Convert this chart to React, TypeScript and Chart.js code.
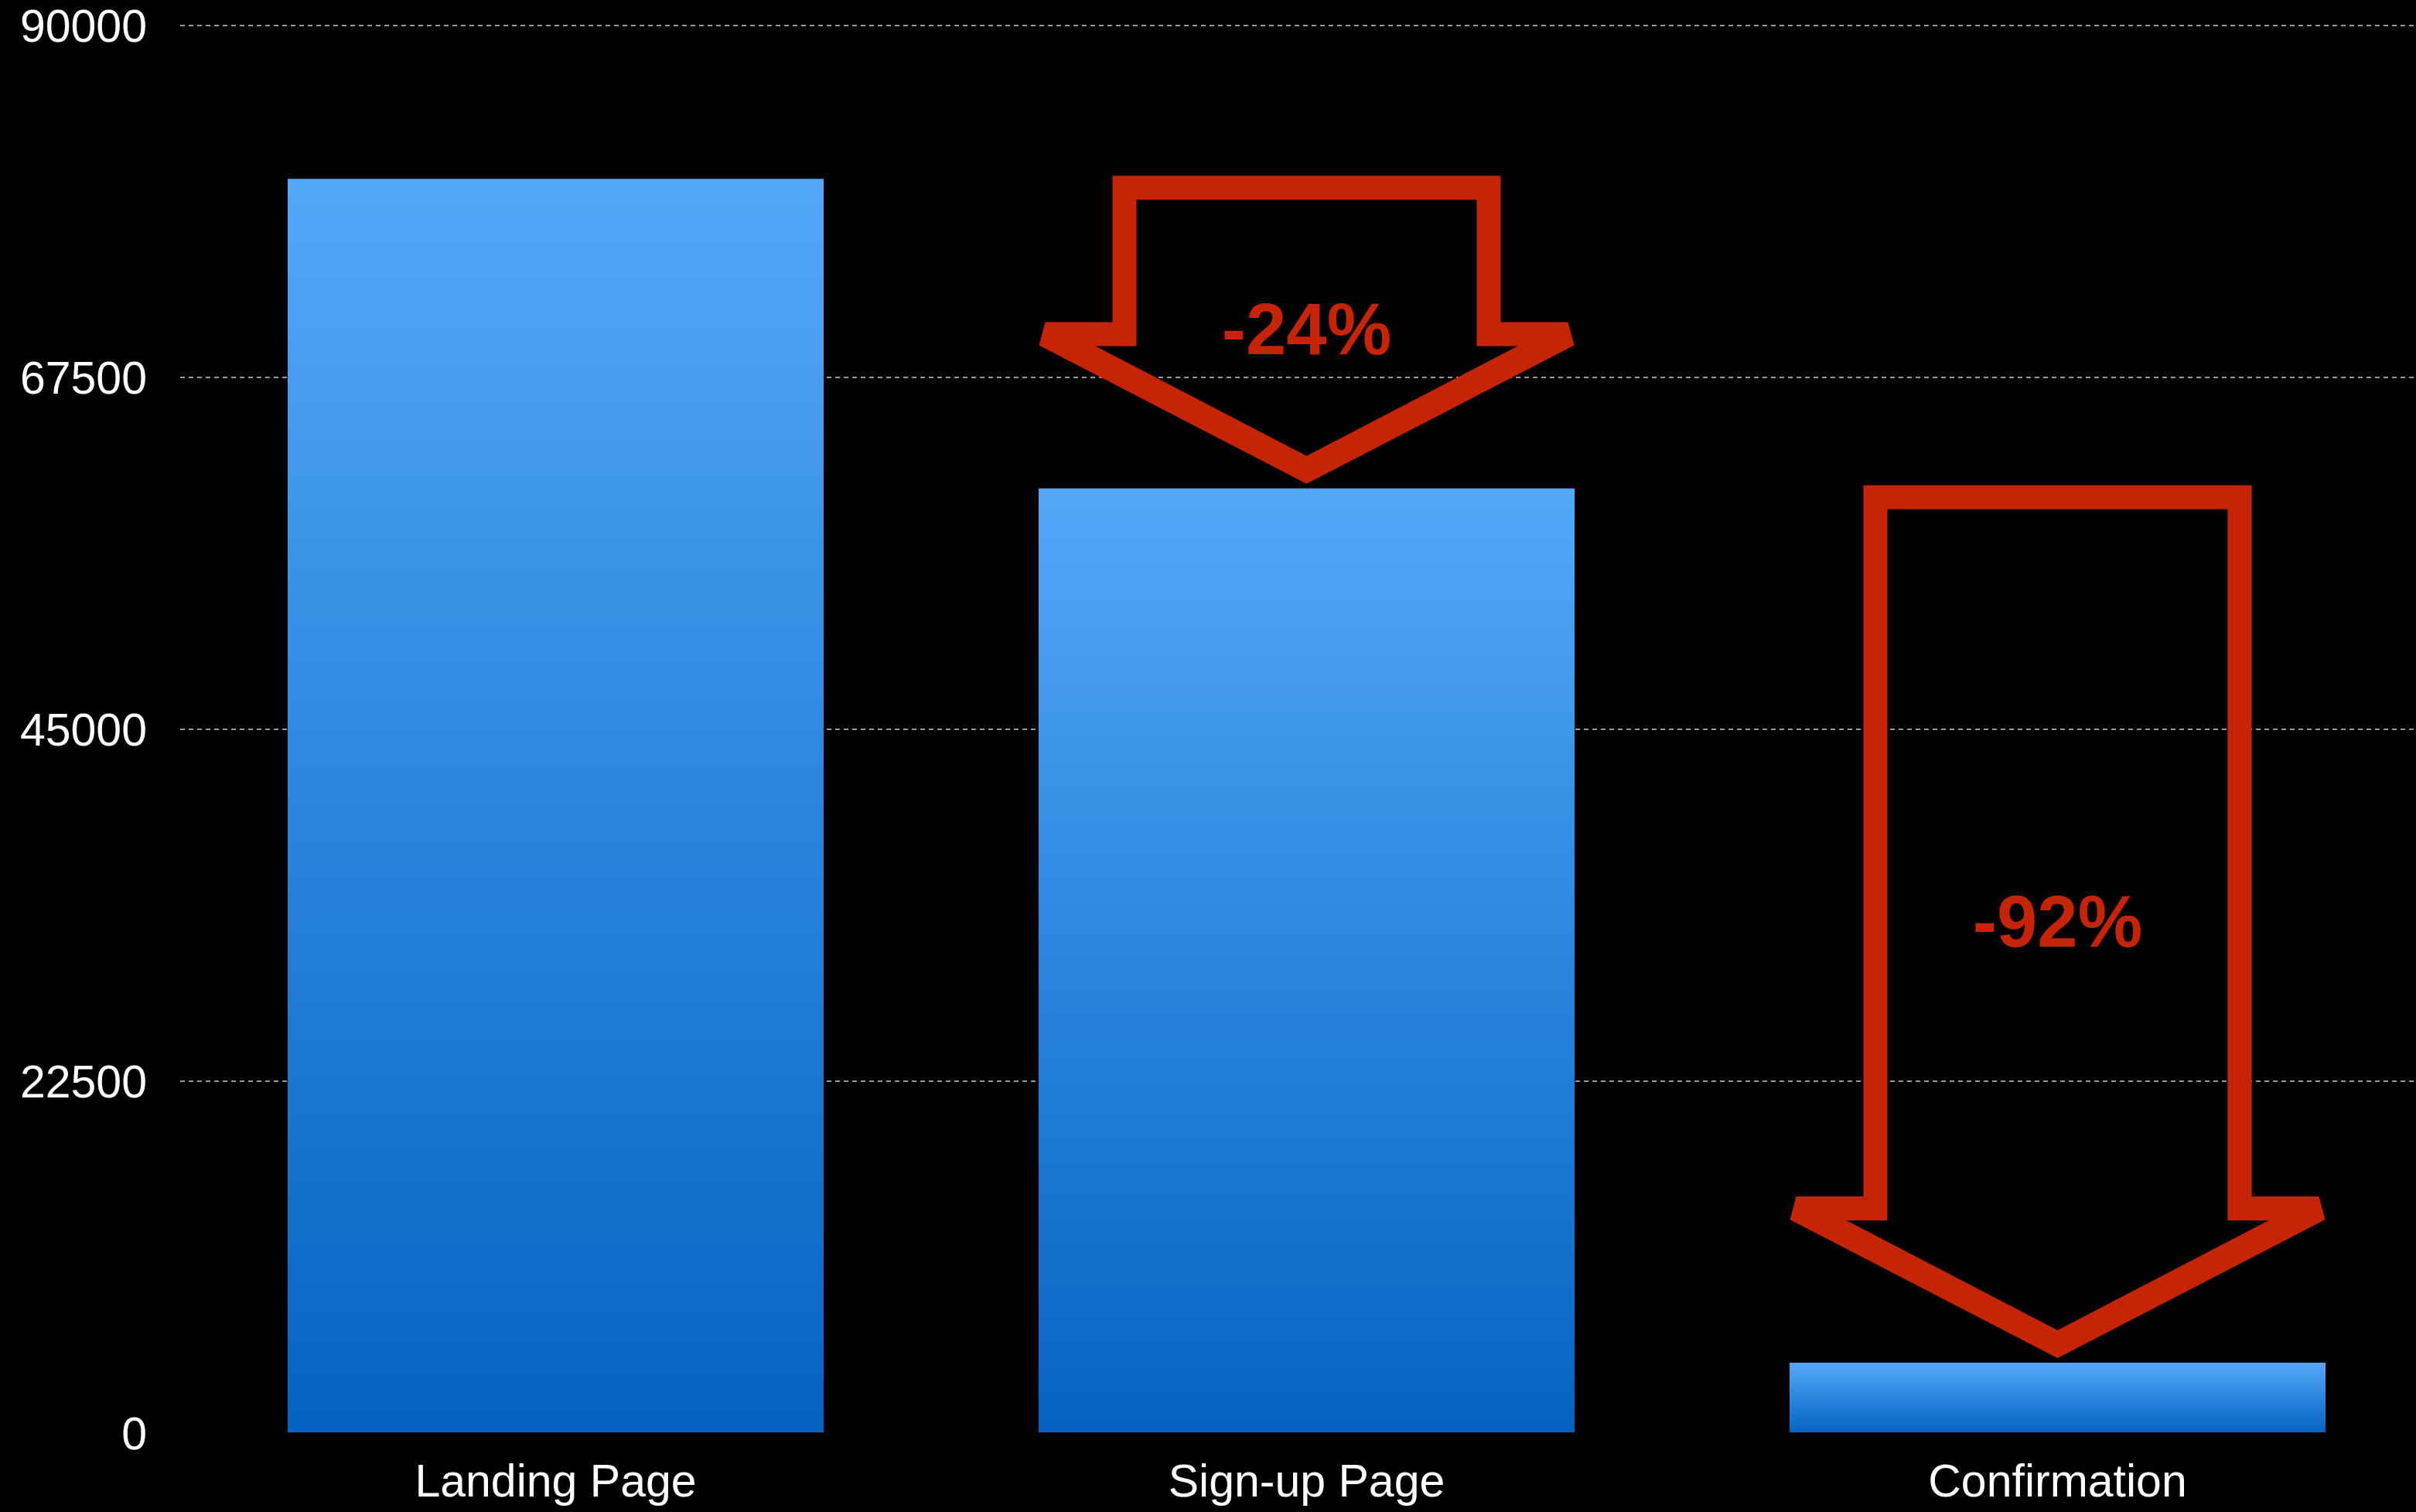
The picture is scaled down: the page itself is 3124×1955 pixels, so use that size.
import React, { useEffect, useRef } from 'react';
import { Chart, registerables } from 'chart.js';

Chart.register(...registerables);

const categories = ['Landing Page', 'Sign-up Page', 'Confirmation'];
const visitors = [80200, 60400, 4500];
const dropLabels = ['-24%', '-92%'];
const yMin = 0;
const yMax = 90000;
const yStep = 22500;

const FONT = "'Liberation Sans', Arial, Helvetica, sans-serif";
const ARROW_RED = '#C62406';
const BAR_TOP = '#53A8FA';
const BAR_BOTTOM = '#0563C0';

const arrowPlugin = {
  id: 'dropArrows',
  afterDatasetsDraw(chart: any) {
    const ctx = chart.ctx as CanvasRenderingContext2D;
    const xs = chart.scales.x;
    const ys = chart.scales.y;
    for (let i = 1; i < visitors.length; i++) {
      const cx = xs.getPixelForValue(i);
      const prevTop = ys.getPixelForValue(visitors[i - 1]);
      const currTop = ys.getPixelForValue(visitors[i]);
      const top = prevTop - 4;
      const topIn = top + 31;
      const tip = currTop - 6;
      const tipIn = tip - 36;
      const base = tip - 179;
      const wingTop = base - 30;
      const sOut = 251;
      const sIn = 220;
      ctx.save();
      ctx.beginPath();
      ctx.moveTo(cx - sOut, top);
      ctx.lineTo(cx + sOut, top);
      ctx.lineTo(cx + sOut, wingTop);
      ctx.lineTo(cx + 338, wingTop);
      ctx.lineTo(cx + 346, base);
      ctx.lineTo(cx, tip);
      ctx.lineTo(cx - 346, base);
      ctx.lineTo(cx - 338, wingTop);
      ctx.lineTo(cx - sOut, wingTop);
      ctx.closePath();
      ctx.moveTo(cx - sIn, topIn);
      ctx.lineTo(cx - sIn, base + 1);
      ctx.lineTo(cx - 273, base + 1);
      ctx.lineTo(cx, tipIn);
      ctx.lineTo(cx + 273, base + 1);
      ctx.lineTo(cx + sIn, base + 1);
      ctx.lineTo(cx + sIn, topIn);
      ctx.closePath();
      ctx.fillStyle = ARROW_RED;
      ctx.fill('evenodd');

      ctx.fillStyle = ARROW_RED;
      ctx.font = `bold 94px ${FONT}`;
      ctx.textAlign = 'center';
      ctx.textBaseline = 'middle';
      ctx.fillText(dropLabels[i - 1], cx, (top + tip) / 2 + 6);
      ctx.restore();
    }
  },
};

export default function App() {
  const canvasRef = useRef<HTMLCanvasElement | null>(null);

  useEffect(() => {
    const canvas = canvasRef.current;
    if (!canvas) return;
    const chart = new Chart(canvas, {
      type: 'bar',
      data: {
        labels: categories,
        datasets: [
          {
            data: visitors,
            backgroundColor: (c: any) => {
              const ch = c.chart;
              if (!ch.chartArea || c.type !== 'data') return '#2E8BE5';
              const ys = ch.scales.y;
              const t = ys.getPixelForValue(c.raw as number);
              const b = ys.getPixelForValue(0);
              const g = ch.ctx.createLinearGradient(0, t, 0, b);
              g.addColorStop(0, BAR_TOP);
              g.addColorStop(1, BAR_BOTTOM);
              return g;
            },
            borderWidth: 0,
            barPercentage: 0.7137,
            categoryPercentage: 1.0,
          },
        ],
      },
      options: {
        responsive: false,
        animation: false,
        devicePixelRatio: 1,
        layout: { padding: { top: 33, left: 0, right: 0, bottom: 0 } },
        plugins: {
          legend: { display: false },
          tooltip: { enabled: false },
          title: { display: false },
        },
        scales: {
          x: {
            offset: true,
            grid: { display: false, drawTicks: false },
            border: { display: false },
            ticks: {
              color: '#ffffff',
              font: { family: FONT, size: 59, lineHeight: 1.2 },
              padding: 30,
              maxRotation: 0,
              autoSkip: false,
            },
            afterFit: (scale: any) => {
              scale.height = 102;
              scale.paddingLeft = 0;
              scale.paddingRight = 0;
            },
          },
          y: {
            min: yMin,
            max: yMax,
            grid: {
              display: true,
              drawTicks: false,
              lineWidth: 2,
              color: (c: any) => (c.tick && c.tick.value === 0 ? 'rgba(0,0,0,0)' : '#9A9A9A'),
            },
            border: { display: false, dash: [6, 5] },
            ticks: {
              stepSize: yStep,
              color: '#ffffff',
              font: { family: FONT, size: 59, lineHeight: 1.0 },
              padding: 43,
              labelOffset: 5,
              callback: (v: any) => String(v),
            },
            afterFit: (scale: any) => {
              scale.width = 233;
              scale.paddingTop = 0;
              scale.paddingBottom = 0;
            },
          },
        },
      },
      plugins: [arrowPlugin],
    });
    return () => chart.destroy();
  }, []);

  return (
    <div
      style={{
        position: 'fixed',
        left: 0,
        top: 0,
        width: 3124,
        height: 1955,
        overflow: 'hidden',
        background: '#000',
      }}
    >
      <canvas
        ref={canvasRef}
        width={3146}
        height={1955}
        style={{ display: 'block', width: 3146, height: 1955 }}
      />
    </div>
  );
}
